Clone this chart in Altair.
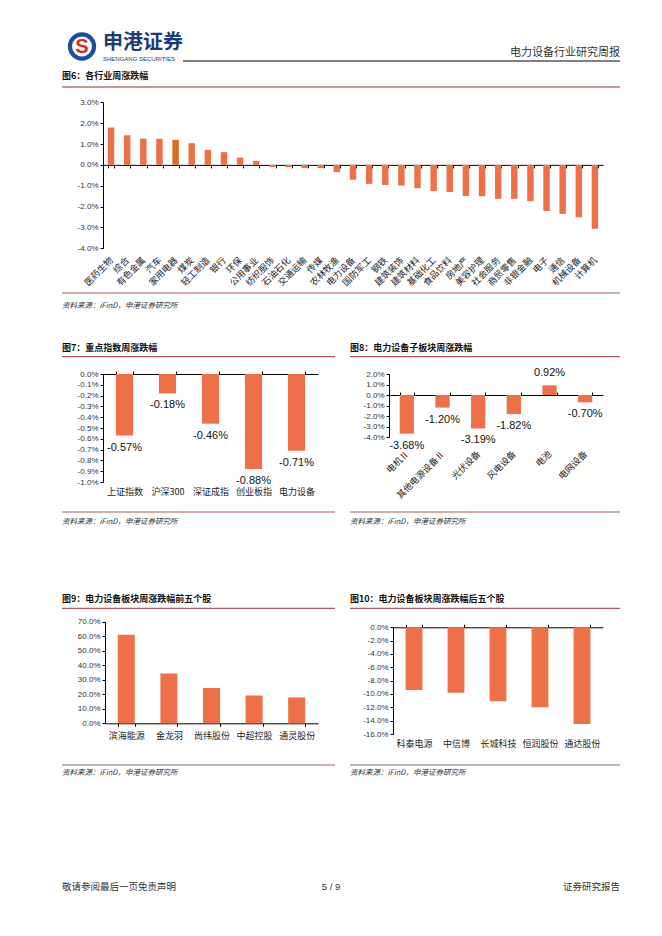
import altair as alt
import pandas as pd

# ---------------- data ----------------
industry_names = ["医药生物", "综合", "有色金属", "汽车", "家用电器", "煤炭", "轻工制造", "银行", "环保",
                  "公用事业", "纺织服饰", "石油石化", "交通运输", "传媒", "农林牧渔", "电力设备", "国防军工",
                  "钢铁", "建筑装饰", "建筑材料", "基础化工", "食品饮料", "房地产", "美容护理", "社会服务",
                  "商贸零售", "非银金融", "电子", "通信", "机械设备", "计算机"]
industry_values = [1.79, 1.42, 1.26, 1.25, 1.20, 1.04, 0.72, 0.61, 0.35, 0.19, -0.10, -0.11, -0.15, -0.15,
                   -0.35, -0.71, -0.91, -0.96, -0.99, -1.12, -1.25, -1.30, -1.49, -1.50, -1.63, -1.63, -1.74,
                   -2.21, -2.35, -2.51, -3.06]
highlight_industry = "家用电器"
industry_ticks = [-4, -3, -2, -1, 0, 1, 2, 3]

index_names = ["上证指数", "沪深300", "深证成指", "创业板指", "电力设备"]
index_values = [-0.57, -0.18, -0.46, -0.88, -0.71]
index_ticks = [-1.0, -0.9, -0.8, -0.7, -0.6, -0.5, -0.4, -0.3, -0.2, -0.1, 0.0]

sub_names = ["电机Ⅱ", "其他电源设备Ⅱ", "光伏设备", "风电设备", "电池", "电网设备"]
sub_values = [-3.68, -1.20, -3.19, -1.82, 0.92, -0.70]
sub_ticks = [-4, -3, -2, -1, 0, 1, 2]

top_names = ["滨海能源", "金龙羽", "尚纬股份", "中超控股", "通灵股份"]
top_values = [61.0, 34.3, 24.4, 19.2, 17.8]
top_ticks = [0, 10, 20, 30, 40, 50, 60, 70]

bottom_names = ["科泰电源", "中信博", "长城科技", "恒润股份", "通达股份"]
bottom_values = [-9.4, -9.8, -11.1, -12.0, -14.5]
bottom_ticks = [-16, -14, -12, -10, -8, -6, -4, -2, 0]

# ---------------- style ----------------
W, H = 646, 912
FONT_CN = "Noto Sans CJK SC"
FONT_NUM = "Liberation Sans"
BAR = "#EE7049"
HL = "#DC6A22"
DARK_RED = "#9E2B2B"
NAVY = "#1D3A73"


def fmt_expr(dec):
    return "replace(format(datum.value, '.%df'), '\u2212', '-') + '%%'" % dec


def y_axis(x_pos, ticks, dec=1):
    return alt.Axis(orient="left", offset=-x_pos, values=ticks, labelExpr=fmt_expr(dec), title=None,
                    grid=False, domainColor="#000000", domainWidth=1, tickColor="#000000", tickSize=3,
                    labelFont=FONT_NUM, labelFontSize=8, labelColor="#333333", labelPadding=2,
                    labelFlush=False, labelOverlap=False)


def label_axis(y_px, angle=0, padding=4, size=9, domain=False, ticks=False):
    kw = dict(orient="bottom", offset=-(H - y_px), domain=domain, ticks=ticks, labelAngle=angle,
              labelPadding=padding, labelFont=FONT_CN, labelFontSize=size, labelColor="#222222",
              title=None, grid=False, labelOverlap=False, domainColor="#000000", tickColor="#000000",
              tickSize=3, tickBand="extent")
    if angle != 0:
        kw.update(labelAlign="right", labelBaseline="middle")
    return alt.Axis(**kw)


def zero_axis(y_px, orient):
    off = -y_px if orient == "top" else -(H - y_px)
    return alt.Axis(orient=orient, offset=off, labels=False, ticks=True, tickBand="extent", tickSize=3,
                    tickColor="#000000", domainColor="#000000", title=None, grid=False)


def panel(names, values, x0, x1, y_lo, y_hi, dom, ticks, lab_axis, z_axis=None, highlight=None,
          value_labels=False):
    df = pd.DataFrame({"cat": names, "v": values, "lbl": ["%.2f%%" % v for v in values]})
    xs = alt.Scale(domain=names, range=[x0, x1], paddingInner=0.6, paddingOuter=0.3)
    ys = alt.Scale(domain=dom, range=[y_lo, y_hi], nice=False)
    if highlight:
        color = alt.condition(alt.datum.cat == highlight, alt.value(HL), alt.value(BAR))
    else:
        color = alt.value(BAR)
    layers = [alt.Chart(df).mark_bar().encode(
        x=alt.X("cat:N", scale=xs, sort=None, axis=lab_axis),
        y=alt.Y("v:Q", scale=ys, axis=y_axis(x0, ticks)),
        color=color)]
    if z_axis is not None:
        layers.append(alt.Chart(df).mark_bar(opacity=0).encode(
            x=alt.X("cat:N", scale=xs, sort=None, axis=z_axis),
            y=alt.Y("v:Q", scale=ys, axis=None)))
    if value_labels:
        for cond, dy in (("datum.v < 0", 12), ("datum.v >= 0", -12)):
            layers.append(alt.Chart(df).transform_filter(cond).mark_text(
                dy=dy, baseline="middle", font=FONT_NUM, fontSize=11, color="#111111").encode(
                x=alt.X("cat:N", scale=xs, sort=None, axis=None),
                y=alt.Y("v:Q", scale=ys, axis=None),
                text="lbl:N"))
    return layers


one = pd.DataFrame({"k": [0]})


def text(s, x, y, size, font=FONT_CN, weight="normal", align="left", color="#222222", style="normal"):
    return alt.Chart(one).mark_text(text=s, font=font, fontSize=size, fontWeight=weight, align=align,
                                    baseline="middle", color=color, fontStyle=style).encode(
        x=alt.value(x), y=alt.value(y))


def hline(x0, x1, y, color, width=1.0):
    return alt.Chart(one).mark_rule(color=color, strokeWidth=width).encode(
        x=alt.value(x0), x2=alt.value(x1), y=alt.value(y))


def circle(x, y, size, color):
    return alt.Chart(one).mark_circle(size=size, color=color, opacity=1).encode(
        x=alt.value(x), y=alt.value(y))


layers = []

# ---------------- header ----------------
layers += [
    circle(74, 38.5, 800, "#1C4E9D"),
    circle(74, 38.5, 400, "#FFFFFF"),
    text("S", 74, 39, 20, font=FONT_NUM, weight="bold", align="center", color="#D7282F"),
    text("申港证券", 95, 35, 20, weight="bold", color=NAVY),
    text("SHENGANG SECURITIES", 95, 51, 6, font=FONT_NUM, color=NAVY),
    hline(175, 612, 53, "#000000", 1),
    text("电力设备行业研究周报", 612, 45, 11, align="right", color="#333333"),
]

# ---------------- figure 6 ----------------
f6_lo, f6_hi = 240.3, 94.3
f6_zero = f6_lo - (0 - (-4)) / 7 * (f6_lo - f6_hi)
layers += [text("图6：各行业周涨跌幅", 54, 68, 9, weight="bold", color="#111111"),
           hline(54, 612, 79, DARK_RED, 1)]
layers += panel(industry_names, industry_values, 95, 595, f6_lo, f6_hi, [-4, 3], industry_ticks,
                label_axis(f6_lo, angle=-45, padding=10, size=9),
                z_axis=zero_axis(f6_zero, "bottom"), highlight=highlight_industry)
layers += [hline(54, 612, 285, DARK_RED, 0.8),
           text("资料来源：iFinD，申港证券研究所", 54, 298, 7.5, style="italic", color="#333333")]

# ---------------- figure 7 ----------------
layers += [text("图7：重点指数周涨跌幅", 54, 339.7, 9, weight="bold", color="#111111"),
           hline(54, 327, 348.7, DARK_RED, 1)]
layers += panel(index_names, index_values, 95, 310, 474, 366, [-1.0, 0.0], index_ticks,
                label_axis(474, padding=5, size=9),
                z_axis=zero_axis(366, "top"), value_labels=True)
layers += [hline(54, 327, 504, DARK_RED, 0.8),
           text("资料来源：iFinD，申港证券研究所", 54, 514, 7.5, style="italic", color="#333333")]

# ---------------- figure 8 ----------------
f8_lo, f8_hi = 429, 366
f8_zero = f8_lo - 4 / 6 * (f8_lo - f8_hi)
layers += [text("图8：电力设备子板块周涨跌幅", 342, 339.7, 9, weight="bold", color="#111111"),
           hline(342, 612, 348.7, DARK_RED, 1)]
layers += panel(sub_names, sub_values, 381, 595, f8_lo, f8_hi, [-4, 2], sub_ticks,
                label_axis(f8_lo, angle=-45, padding=15, size=9),
                z_axis=zero_axis(f8_zero, "top"), value_labels=True)
layers += [hline(342, 612, 504, DARK_RED, 0.8),
           text("资料来源：iFinD，申港证券研究所", 342, 514, 7.5, style="italic", color="#333333")]

# ---------------- figure 9 ----------------
layers += [text("图9：电力设备板块周涨跌幅前五个股", 54, 591, 9, weight="bold", color="#111111"),
           hline(54, 327, 600.3, DARK_RED, 1)]
layers += panel(top_names, top_values, 97, 310, 715.3, 613.7, [0, 70], top_ticks,
                label_axis(715.3, padding=5, size=9, domain=True, ticks=True))
layers += [hline(54, 327, 757, DARK_RED, 0.8),
           text("资料来源：iFinD，申港证券研究所", 54, 765, 7.5, style="italic", color="#333333")]

# ---------------- figure 10 ----------------
layers += [text("图10：电力设备板块周涨跌幅后五个股", 342, 591, 9, weight="bold", color="#111111"),
           hline(342, 612, 600.3, DARK_RED, 1)]
layers += panel(bottom_names, bottom_values, 385, 595, 726, 619.3, [-16, 0], bottom_ticks,
                label_axis(726, padding=5, size=9),
                z_axis=zero_axis(619.3, "top"))
layers += [hline(342, 612, 757, DARK_RED, 0.8),
           text("资料来源：iFinD，申港证券研究所", 342, 765, 7.5, style="italic", color="#333333")]

# ---------------- footer ----------------
layers += [text("敬请参阅最后一页免责声明", 54, 879, 9.5, color="#333333"),
           text("5 / 9", 323, 879, 9.5, font=FONT_NUM, align="center", color="#333333"),
           text("证券研究报告", 612, 879, 9.5, align="right", color="#333333")]

chart = alt.layer(*layers).resolve_scale(x="independent", y="independent").resolve_axis(
    x="independent", y="independent").properties(
    width=W, height=H, autosize=alt.AutoSizeParams(type="none"), padding=0, background="white"
).configure_view(stroke=None).configure_axis(grid=False)

chart.save("out.html", embed_options={"renderer": "svg", "actions": False})
